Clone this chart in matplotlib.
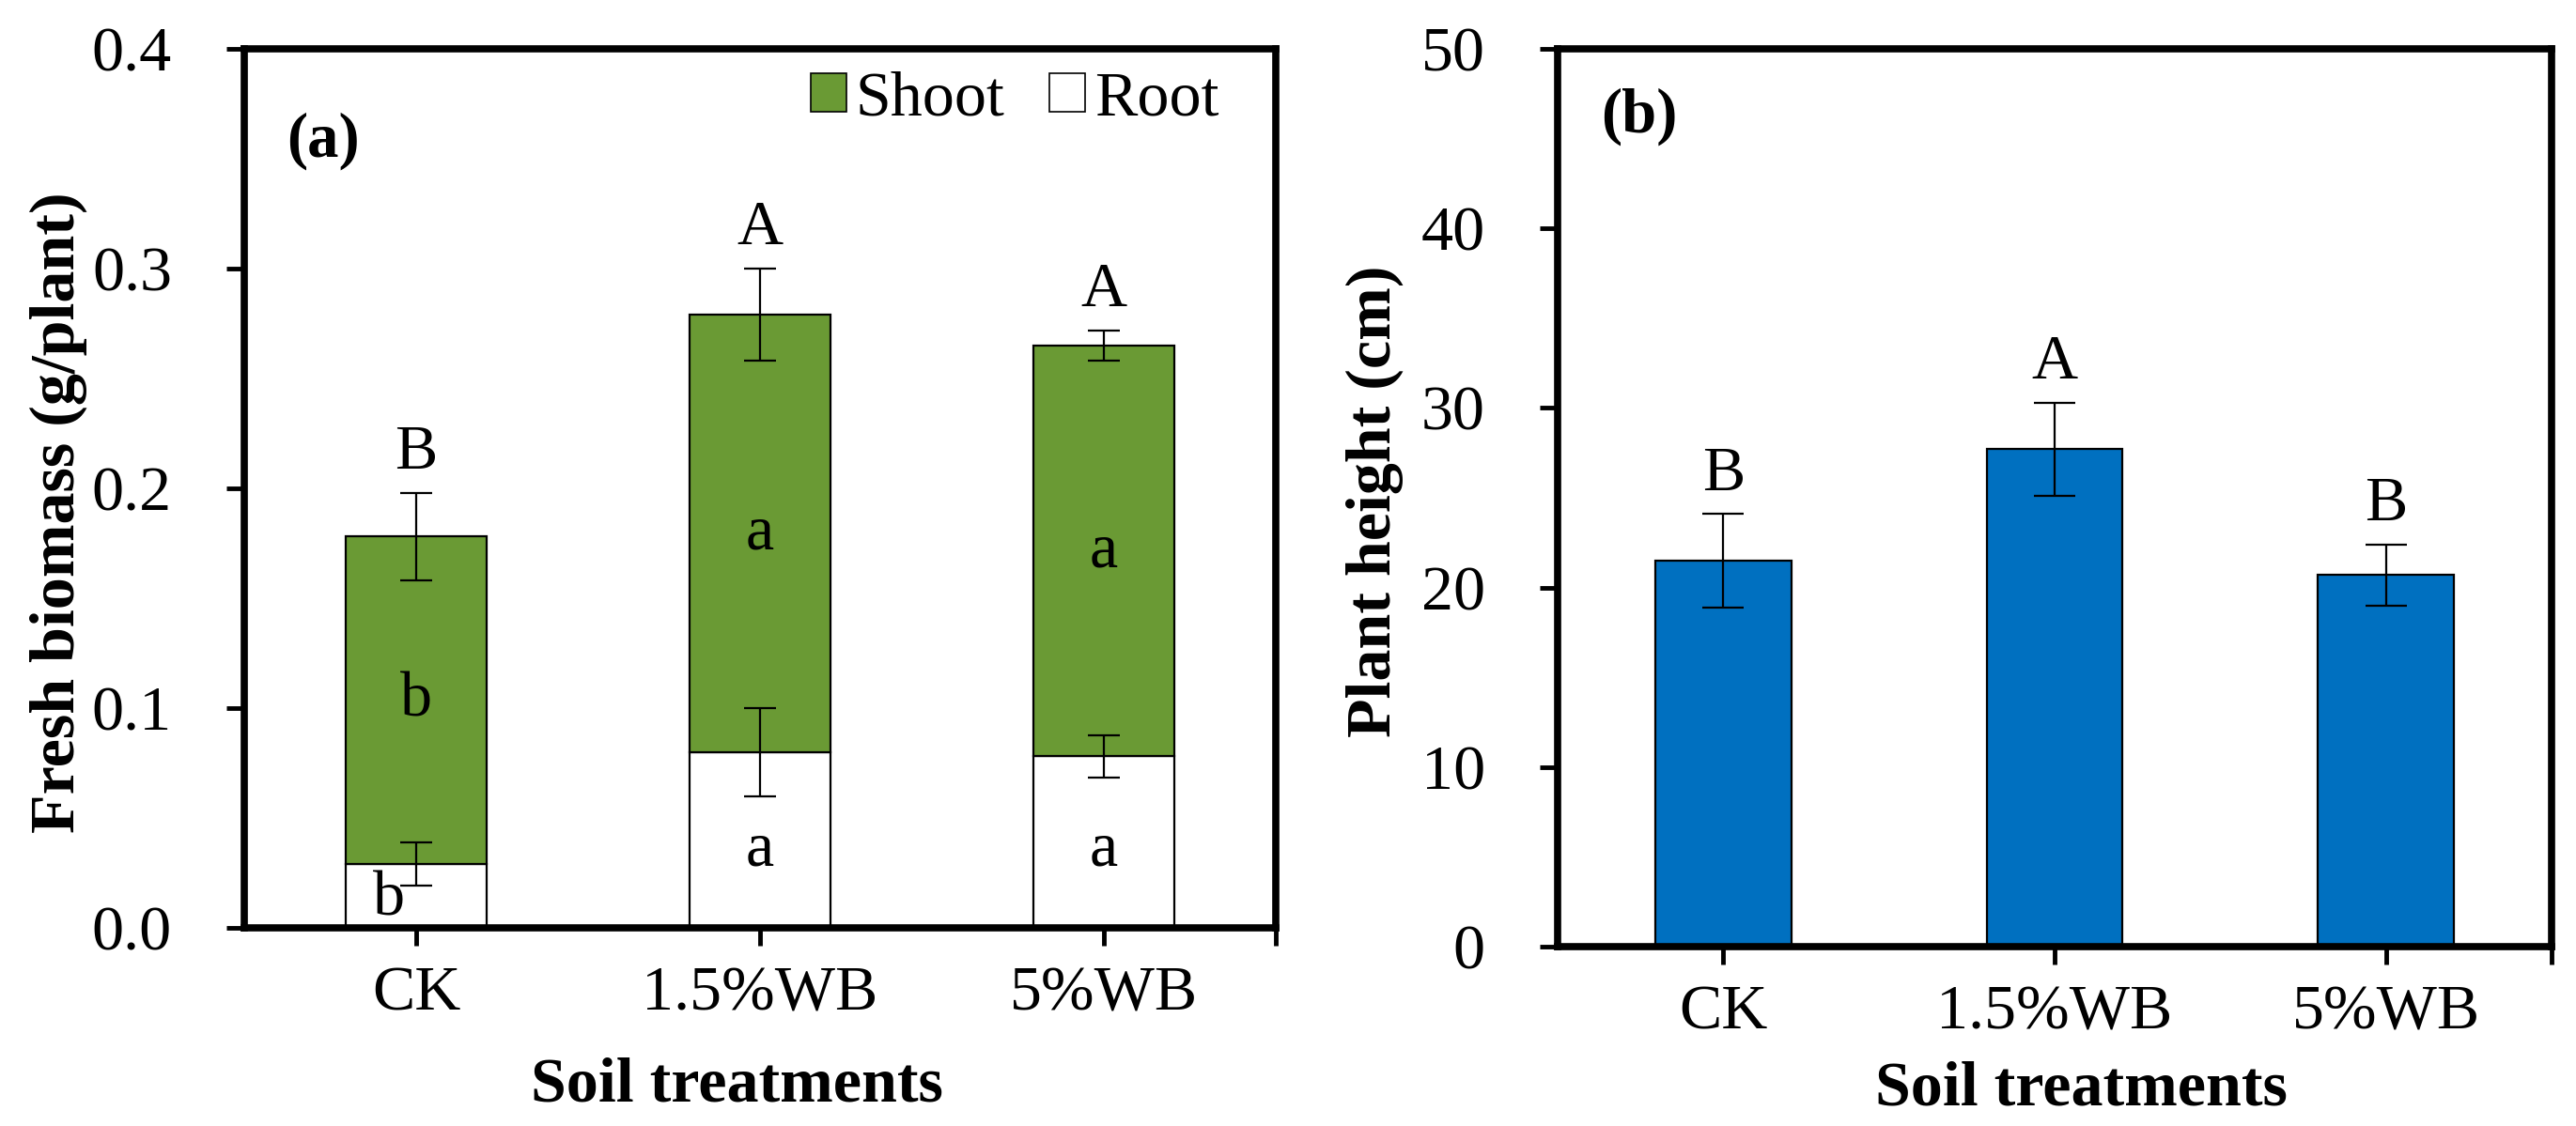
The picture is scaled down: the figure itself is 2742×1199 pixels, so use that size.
import numpy as np
import matplotlib
matplotlib.use("Agg")
import matplotlib.pyplot as plt
from matplotlib.patches import Patch

plt.rcParams['font.family'] = ['Liberation Serif', 'DejaVu Serif']

treatments = ['CK', '1.5%WB', '5%WB']

# (a) fresh biomass, g/plant
root = [0.029, 0.080, 0.078]
root_err = [0.0097, 0.020, 0.0095]
shoot = [0.149, 0.199, 0.187]
total_err = [0.020, 0.021, 0.007]
root_letters = ['b', 'a', 'a']
shoot_letters = ['b', 'a', 'a']
total_letters = ['B', 'A', 'A']

# (b) plant height, cm
height = [21.5, 27.7, 20.7]
height_err = [2.6, 2.6, 1.7]
height_letters = ['B', 'A', 'B']

green = '#6a9a34'
blue = '#0070c0'
fs = 49
W, H = 2742, 1199

fig = plt.figure(figsize=(W / 100, H / 100), dpi=100)
ax1 = fig.add_axes([260 / W, 1 - 988 / H, 1098 / W, 936 / H])
ax2 = fig.add_axes([1658 / W, 1 - 1008 / H, 1058 / W, 956 / H])

x = np.arange(len(treatments))
bw = 0.41


def style_axes(ax, ymax, step):
    ax.set_xlim(-0.5, 2.5)
    ax.set_ylim(0, ymax)
    ax.set_yticks(np.arange(0, ymax + step / 2, step))
    ax.set_xticks(x)
    ax.set_xticks([2.5], minor=True)
    ax.set_xticklabels(treatments)
    for s in ax.spines.values():
        s.set_linewidth(5.5)
        s.set_capstyle('projecting')
    ax.tick_params(axis='both', which='both', direction='out', length=13.5,
                   width=3.5, labelsize=fs)
    ax.tick_params(axis='y', pad=42)
    ax.tick_params(axis='x', pad=16)


# ---- panel (a)
tot = np.array(root) + np.array(shoot)
ax1.bar(x, root, bw, color='white', edgecolor='black', linewidth=1.6, zorder=2)
ax1.bar(x, shoot, bw, bottom=root, color=green, edgecolor='black', linewidth=1.6, zorder=2)
ax1.errorbar(x, root, yerr=root_err, fmt='none', ecolor='black', elinewidth=1.6,
             capsize=12, capthick=1.6, zorder=3)
ax1.errorbar(x, tot, yerr=total_err, fmt='none', ecolor='black', elinewidth=1.6,
             capsize=12, capthick=1.6, zorder=3)
style_axes(ax1, 0.4, 0.1)
ax1.set_yticklabels(['%.1f' % v for v in np.arange(0, 0.41, 0.1)])

for i in range(3):
    ax1.text(x[i], tot[i] + total_err[i] + 0.018, total_letters[i], fontsize=fs,
             ha='center', va='center')
    ax1.text(x[i], root[i] + shoot[i] * 0.5 - 0.0, shoot_letters[i], fontsize=fs,
             ha='center', va='center')
ax1.text(x[0] - 0.08, 0.0128, root_letters[0], fontsize=fs, ha='center', va='center', zorder=4)
for i in (1, 2):
    ax1.text(x[i], 0.0355, root_letters[i], fontsize=fs, ha='center', va='center')

ax1.text(0.041, 0.895, '(a)', transform=ax1.transAxes, fontsize=fs - 1,
         fontweight='bold', ha='left', va='center')
handles = [Patch(facecolor=green, edgecolor='black', linewidth=1.2),
           Patch(facecolor='white', edgecolor='black', linewidth=1.2)]
ax1.legend(handles, ['Shoot', 'Root'], loc='upper right', bbox_to_anchor=(0.945, 0.975),
           ncol=2, frameon=False, fontsize=fs, handlelength=0.55, handleheight=0.55,
           handletextpad=0.15, columnspacing=0.7, borderaxespad=0, borderpad=0)

ax1.set_ylabel('Fresh biomass (g/plant)', fontsize=fs, fontweight='bold')
ax1.yaxis.set_label_coords(-0.180, 0.473)
ax1.yaxis.label.set_va('center')
ax1.set_xlabel('Soil treatments', fontsize=fs, fontweight='bold')
ax1.xaxis.set_label_coords(0.478, -0.179)
ax1.xaxis.label.set_va('center')

# ---- panel (b)
ax2.bar(x, height, bw, color=blue, edgecolor='black', linewidth=1.6, zorder=2)
ax2.errorbar(x, height, yerr=height_err, fmt='none', ecolor='black', elinewidth=1.6,
             capsize=16, capthick=1.6, zorder=3)
style_axes(ax2, 50, 10)
for i in range(3):
    ax2.text(x[i], height[i] + height_err[i] + 2.2, height_letters[i], fontsize=fs,
             ha='center', va='center')
ax2.text(0.0436, 0.924, '(b)', transform=ax2.transAxes, fontsize=fs - 1,
         fontweight='bold', ha='left', va='center')
ax2.set_ylabel('Plant height (cm)', fontsize=fs, fontweight='bold')
ax2.yaxis.set_label_coords(-0.184, 0.496)
ax2.yaxis.label.set_va('center')
ax2.set_xlabel('Soil treatments', fontsize=fs, fontweight='bold')
ax2.xaxis.set_label_coords(0.527, -0.159)
ax2.xaxis.label.set_va('center')

fig.savefig('out.png', dpi=100)
